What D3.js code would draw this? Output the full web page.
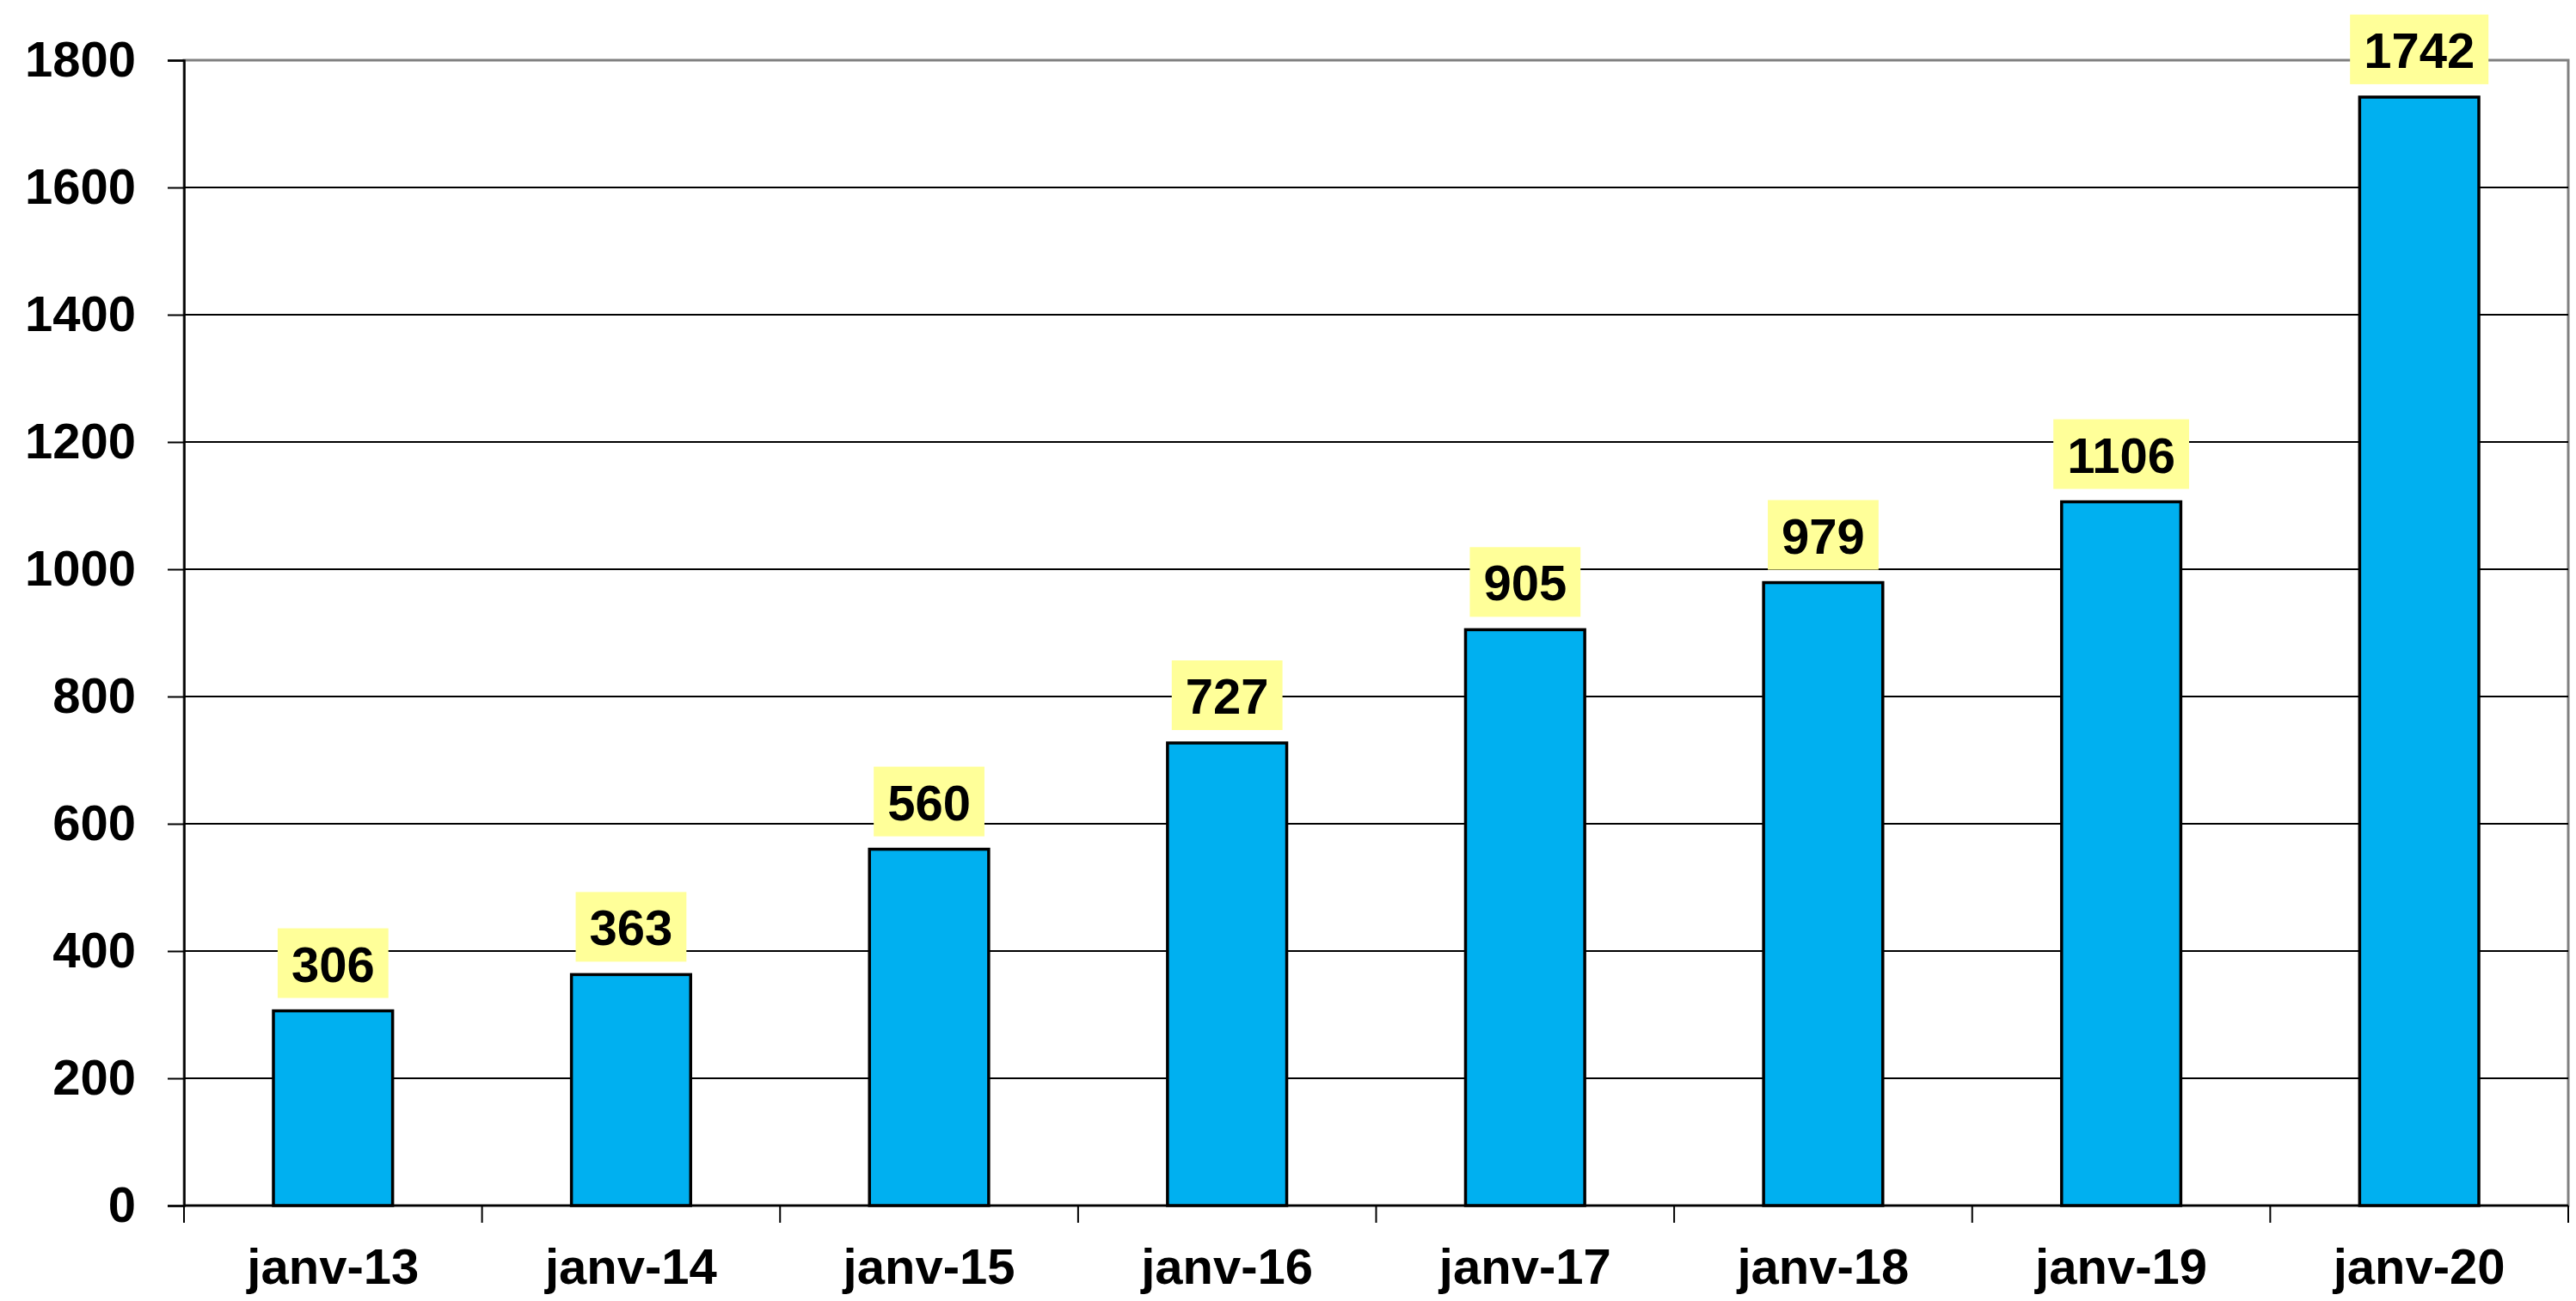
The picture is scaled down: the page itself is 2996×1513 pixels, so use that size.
<!DOCTYPE html>
<html>
<head>
<meta charset="utf-8">
<style>
  body { margin: 0; background: #fff; }
  text { font-family: "Liberation Sans", Arial, sans-serif; font-weight: bold; }
</style>
</head>
<body>
<div id="chart"></div>
<script src="https://d3js.org/d3.v7.min.js"></script>
<script>
// data
let categories = ["janv-13", "janv-14", "janv-15", "janv-16", "janv-17", "janv-18", "janv-19", "janv-20"];
let values = [306, 363, 560, 727, 905, 979, 1106, 1742];
let yTicks = [0, 200, 400, 600, 800, 1000, 1200, 1400, 1600, 1800];

let svgWidth = 2996, svgHeight = 1513;
let margin = {top: 70, right: 9, bottom: 111, left: 214};
let width = svgWidth - margin.left - margin.right,
    height = svgHeight - margin.top - margin.bottom;

let x = d3.scaleBand().domain(categories).range([0, width]).paddingInner(0.6).paddingOuter(0.3);
let xEdge = d3.scaleBand().domain(categories).range([0, width]);
let y = d3.scaleLinear().domain([0, 1800]).range([height, 0]);

let svg = d3.select("#chart").append("svg")
    .attr("width", svgWidth)
    .attr("height", svgHeight);

let g = svg.append("g")
    .attr("transform", "translate(" + margin.left + "," + margin.top + ")");

// plot area border (grey)
g.append("rect")
    .attr("x", 0).attr("y", 0)
    .attr("width", width).attr("height", height)
    .attr("fill", "none")
    .attr("stroke", "#808080")
    .attr("stroke-width", 3);

// gridlines
g.selectAll(".grid")
    .data(yTicks.filter(d => d > 0 && d < 1800))
    .enter().append("line")
    .attr("x1", 0).attr("x2", width)
    .attr("y1", d => y(d)).attr("y2", d => y(d))
    .attr("stroke", "#000")
    .attr("stroke-width", 2);

// y axis
let yAxis = g.append("g")
    .call(d3.axisLeft(y).tickValues(yTicks).tickFormat(d3.format("d")).tickSize(19).tickPadding(37));
yAxis.select(".domain").attr("stroke", "#000").attr("stroke-width", 2.5);
yAxis.selectAll(".tick line").attr("stroke", "#000").attr("stroke-width", 2);
yAxis.selectAll("text")
    .attr("font-size", 58)
    .attr("font-family", "'Liberation Sans', Arial, sans-serif")
    .attr("font-weight", "bold")
    .attr("fill", "#000");

// x axis: ticks at category boundaries
let bounds = categories.map(c => xEdge(c)).concat([width]);
let xAxis = g.append("g").attr("transform", "translate(0," + height + ")");
xAxis.append("line")
    .attr("x1", 0).attr("x2", width)
    .attr("y1", 0).attr("y2", 0)
    .attr("stroke", "#000").attr("stroke-width", 2.5);
xAxis.selectAll(".xt")
    .data(bounds)
    .enter().append("line")
    .attr("x1", d => d).attr("x2", d => d)
    .attr("y1", 0).attr("y2", 20)
    .attr("stroke", "#000").attr("stroke-width", 2);
xAxis.selectAll(".xl")
    .data(categories)
    .enter().append("text")
    .attr("x", d => x(d) + x.bandwidth() / 2)
    .attr("y", 91)
    .attr("text-anchor", "middle")
    .attr("font-size", 58)
    .attr("fill", "#000")
    .text(d => d);

// bars
let bars = g.selectAll(".bar")
    .data(categories)
    .enter().append("g");

bars.append("rect")
    .attr("x", d => x(d))
    .attr("y", (d, i) => y(values[i]))
    .attr("width", x.bandwidth())
    .attr("height", (d, i) => height - y(values[i]))
    .attr("fill", "#00B0F0")
    .attr("stroke", "#000")
    .attr("stroke-width", 3.5);

// value labels with yellow boxes
let labels = bars.append("g");
labels.append("rect").attr("class", "lblbox");
labels.append("text")
    .attr("class", "lbl")
    .attr("x", d => x(d) + x.bandwidth() / 2)
    .attr("y", (d, i) => y(values[i]) - 34)
    .attr("text-anchor", "middle")
    .attr("font-size", 58)
    .attr("fill", "#000")
    .text((d, i) => values[i]);

labels.each(function(d, i) {
    let t = d3.select(this).select("text");
    let w = t.node().getComputedTextLength();
    let cx = x(d) + x.bandwidth() / 2;
    let base = y(values[i]) - 34;
    d3.select(this).select("rect")
        .attr("x", cx - w / 2 - 16)
        .attr("y", base - 62)
        .attr("width", w + 32)
        .attr("height", 81)
        .attr("fill", "#FFFF99");
});
</script>
</body>
</html>
